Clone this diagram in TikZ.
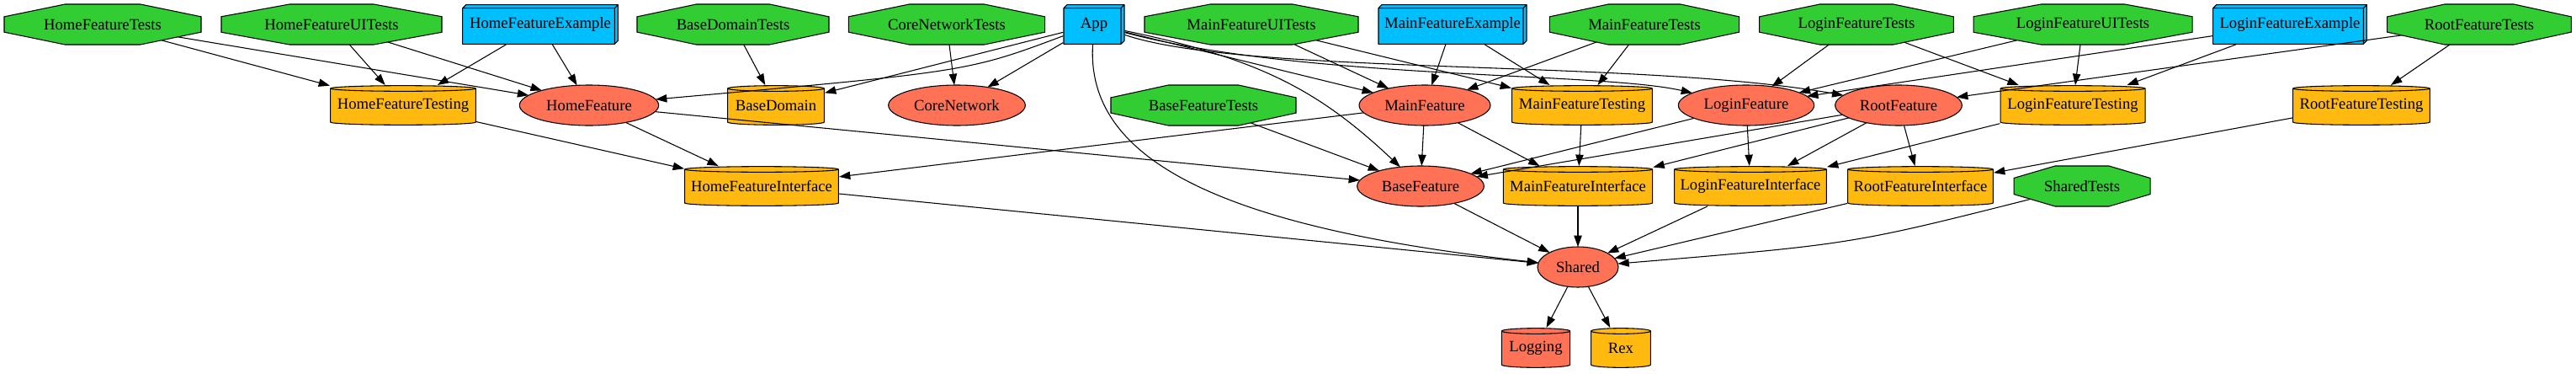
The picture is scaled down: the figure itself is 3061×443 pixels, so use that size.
\documentclass[tikz,border=0pt]{standalone}
\usepackage{fontspec}
\setmainfont{Liberation Serif}
\usetikzlibrary{shapes.misc,shapes.geometric,arrows.meta,calc}
\definecolor{tgreen}{HTML}{32CD32}
\definecolor{tred}{HTML}{FF7256}
\definecolor{tyellow}{HTML}{FFB90F}
\definecolor{tblue}{HTML}{00BFFF}
\tikzset{
  base/.style={font=\fontsize{14pt}{16pt}\selectfont, inner sep=0pt, outer sep=0pt, line width=0.8pt, minimum height=36pt},
  oct/.style 2 args={base, chamfered rectangle, draw, fill=tgreen, minimum width=#1,
    chamfered rectangle ysep=10.5pt, chamfered rectangle angle=#2},
  ell/.style={base, ellipse, draw, fill=tred, minimum width=#1},
  cyl/.style 2 args={base, rectangle, minimum width=#1, path picture={
     \draw[line width=0.8pt, fill=#2] let \p1=(path picture bounding box.south west),
        \p2=(path picture bounding box.north east), \n1={(\x2-\x1)/2-0.5pt} in
       (\x1+0.5pt,\y2-3pt) -- (\x1+0.5pt,\y1+3pt)
       arc[start angle=180,end angle=360,x radius=\n1,y radius=2.5pt]
       -- (\x2-0.5pt,\y2-3pt)
       arc[start angle=0,end angle=180,x radius=\n1,y radius=2.5pt] -- cycle
       (\x1+0.5pt,\y2-3pt) arc[start angle=180,end angle=360,x radius=\n1,y radius=2.5pt];
  }},
  box/.style={base, rectangle, minimum width=#1, path picture={
     \draw[line width=0.8pt, fill=tblue, line join=round] let \p1=(path picture bounding box.south west),
        \p2=(path picture bounding box.north east) in
       (\x1+0.5pt,\y1+0.5pt) rectangle (\x2-3.5pt,\y2-3.5pt)
       (\x1+0.5pt,\y2-3.5pt) -- (\x1+3.5pt,\y2-0.5pt) -- (\x2-0.5pt,\y2-0.5pt) -- (\x2-3.5pt,\y2-3.5pt) -- cycle
       (\x2-3.5pt,\y2-3.5pt) -- (\x2-0.5pt,\y2-0.5pt) -- (\x2-0.5pt,\y1+3.5pt) -- (\x2-3.5pt,\y1+0.5pt) -- cycle;
  }},
  dep/.style={-{Triangle[length=10pt,width=7pt]}, line width=0.8pt}
}
\begin{document}
\begin{tikzpicture}[x=0.75pt,y=-0.75pt]
\useasboundingbox (0,0) rectangle (3061,443);
% row 1
\node[oct={175.5pt}{78.4}] (hft) at (122,29) {HomeFeatureTests};
\node[oct={196.5pt}{79.7}] (hfuit) at (394,29) {HomeFeatureUITests};
\node[box=139.5pt] (hfe) at (642,29) {HomeFeatureExample};
\node[oct={171pt}{78.1}] (bdt) at (871,29) {BaseDomainTests};
\node[oct={175pt}{78.4}] (cnt) at (1125,29) {CoreNetworkTests};
\node[box=55pt] (app) at (1300,29) {App};
\node[oct={190.5pt}{79.3}] (mfuit) at (1487,29) {MainFeatureUITests};
\node[box=133pt] (mfe) at (1726,29) {MainFeatureExample};
\node[oct={169pt}{78.0}] (mft) at (1954,29) {MainFeatureTests};
\node[oct={173pt}{78.3}] (lft) at (2206,29) {LoginFeatureTests};
\node[oct={195pt}{79.6}] (lfuit) at (2475,29) {LoginFeatureUITests};
\node[box=138pt] (lfe) at (2721,29) {LoginFeatureExample};
\node[oct={164pt}{77.7}] (rft) at (2946,29) {RootFeatureTests};
% row 2
\node[cyl={130.5pt}{tyellow}] (hftg) at (479,125) {HomeFeatureTesting};
\node[ell=124pt] (hf) at (700,125) {HomeFeature};
\node[cyl={87pt}{tyellow}] (bd) at (922,125) {BaseDomain};
\node[ell=122pt] (cn) at (1137,125) {CoreNetwork};
\node[oct={165pt}{77.7}] (bft) at (1430,125) {BaseFeatureTests};
\node[ell=117pt] (mf) at (1693,125) {MainFeature};
\node[cyl={126pt}{tyellow}] (mftg) at (1880,125) {MainFeatureTesting};
\node[ell=121pt] (lf) at (2075,125) {LoginFeature};
\node[ell=113pt] (rf) at (2256,125) {RootFeature};
\node[cyl={130pt}{tyellow}] (lftg) at (2463,125) {LoginFeatureTesting};
\node[cyl={123pt}{tyellow}] (rftg) at (2806,125) {RootFeatureTesting};
% row 3
\node[cyl={138pt}{tyellow}] (hfi) at (905,221) {HomeFeatureInterface};
\node[ell=113pt] (bf) at (1688,221) {BaseFeature};
\node[cyl={134pt}{tyellow}] (mfi) at (1875,221) {MainFeatureInterface};
\node[cyl={136.5pt}{tyellow}] (lfi) at (2080,221) {LoginFeatureInterface};
\node[cyl={130.5pt}{tyellow}] (rfi) at (2282,221) {RootFeatureInterface};
\node[oct={121.5pt}{73.6}] (st) at (2474,221) {SharedTests};
% row 4,5
\node[ell=72pt] (sh) at (1875,317) {Shared};
\node[cyl={62pt}{tred}] (lg) at (1825,413) {Logging};
\node[cyl={54pt}{tyellow}] (rex) at (1926,413) {Rex};
% edges
\draw[dep] (hft) -- (hftg);
\draw[dep] (hft) -- (hf);
\draw[dep] (hfuit) -- (hftg);
\draw[dep] (hfuit) -- (hf);
\draw[dep] (hfe) -- (hftg);
\draw[dep] (hfe) -- (hf);
\draw[dep] (app) .. controls (1150,85) .. (hf);
\draw[dep] (app) -- (bd);
\draw[dep] (app) -- (cn);
\draw[dep] (app) .. controls (1290,190) and (1450,270) .. (sh);
\draw[dep] (app) -- (mf);
\draw[dep] (app) .. controls (1500,70) and (1570,110) .. (bf);
\draw[dep] (app) .. controls (1550,95) and (1900,85) .. (lf);
\draw[dep] (app) .. controls (1480,90) and (1950,70) .. (rf);
\draw[dep] (bdt) -- (bd);
\draw[dep] (cnt) -- (cn);
\draw[dep] (mfuit) -- (mf);
\draw[dep] (mfuit) -- (mftg);
\draw[dep] (mfe) -- (mf);
\draw[dep] (mfe) -- (mftg);
\draw[dep] (mft) -- (mf);
\draw[dep] (mft) -- (mftg);
\draw[dep] (lft) -- (lf);
\draw[dep] (lft) -- (lftg);
\draw[dep] (lfuit) -- (lf);
\draw[dep] (lfuit) -- (lftg);
\draw[dep] (lfe) -- (lf);
\draw[dep] (lfe) -- (lftg);
\draw[dep] (rft) -- (rf);
\draw[dep] (rft) -- (rftg);
\draw[dep] (hftg) -- (hfi);
\draw[dep] (hf) -- (hfi);
\draw[dep] (hf) -- (bf);
\draw[dep] (mf) -- (hfi);
\draw[dep] (bft) -- (bf);
\draw[dep] (mf) -- (bf);
\draw[dep] (mf) -- (mfi);
\draw[dep] (mftg) -- (mfi);
\draw[dep] (lf) -- (bf);
\draw[dep] (lf) -- (lfi);
\draw[dep] (rf) -- (bf);
\draw[dep] (rf) -- (mfi);
\draw[dep] (rf) -- (lfi);
\draw[dep] (rf) -- (rfi);
\draw[dep] (lftg) -- (lfi);
\draw[dep] (rftg) -- (rfi);
\draw[dep] (hfi) -- (sh);
\draw[dep] (bf) -- (sh);
\draw[dep] (mfi) -- (sh);
\draw[dep] (lfi) -- (sh);
\draw[dep] (rfi) -- (sh);
\draw[dep] (st) .. controls (2200,290) .. (sh);
\draw[dep] (sh) -- (lg);
\draw[dep] (sh) -- (rex);
\end{tikzpicture}
\end{document}
